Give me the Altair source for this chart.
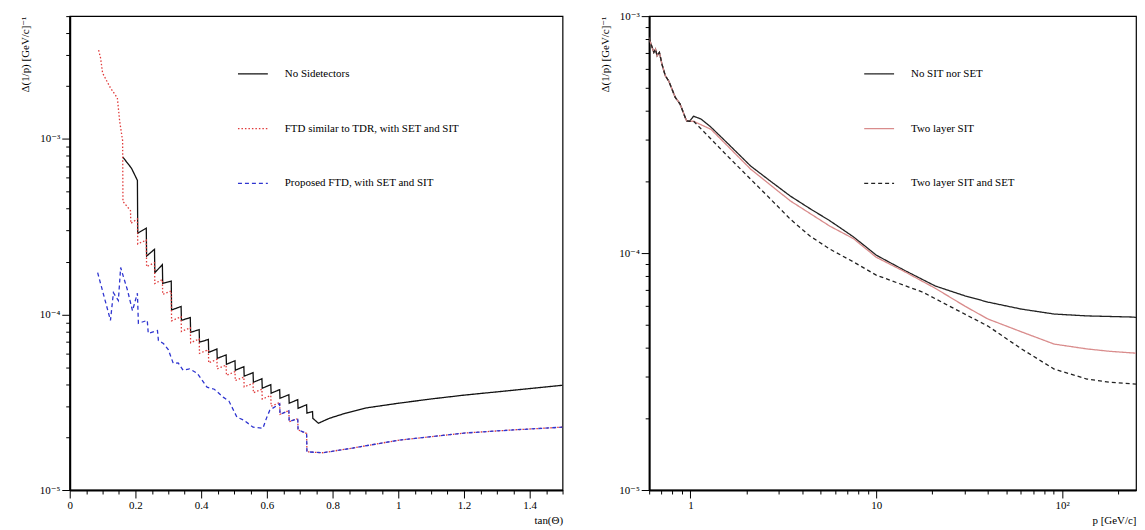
import altair as alt
import pandas as pd

FONT = "Liberation Serif, DejaVu Serif, serif"

# ---------------- left panel: resolution vs tan(theta) ----------------
left_names = ["No Sidetectors", "FTD similar to TDR, with SET and SIT", "Proposed FTD, with SET and SIT"]

black_tan = [0.161, 0.188, 0.206, 0.207, 0.233, 0.234, 0.258, 0.259, 0.282, 0.283, 0.309, 0.310, 0.339,
             0.340, 0.367, 0.368, 0.394, 0.395, 0.422, 0.423, 0.448, 0.449, 0.476, 0.477, 0.503, 0.504,
             0.530, 0.531, 0.558, 0.559, 0.585, 0.586, 0.612, 0.613, 0.639, 0.640, 0.667, 0.668, 0.694,
             0.695, 0.721, 0.722, 0.739, 0.740, 0.757, 0.79, 0.84, 0.90, 1.0, 1.1, 1.2, 1.35, 1.5]
black_res = [7.9e-4, 6.8e-4, 5.8e-4, 2.9e-4, 3.1e-4, 2.15e-4, 2.35e-4, 1.73e-4, 1.92e-4, 1.50e-4, 1.55e-4,
             1.06e-4, 1.11e-4, 9.25e-5, 9.6e-5, 7.9e-5, 8.2e-5, 6.95e-5, 7.2e-5, 6.08e-5, 6.35e-5, 5.62e-5,
             5.88e-5, 5.20e-5, 5.45e-5, 4.81e-5, 5.04e-5, 4.45e-5, 4.66e-5, 4.11e-5, 4.30e-5, 3.80e-5,
             3.98e-5, 3.56e-5, 3.73e-5, 3.33e-5, 3.49e-5, 3.12e-5, 3.27e-5, 2.92e-5, 3.06e-5, 2.74e-5,
             2.80e-5, 2.56e-5, 2.40e-5, 2.56e-5, 2.74e-5, 2.93e-5, 3.12e-5, 3.30e-5, 3.47e-5, 3.70e-5, 3.95e-5]

red_tan = [0.088, 0.094, 0.100, 0.124, 0.145, 0.152, 0.161, 0.162, 0.185, 0.186, 0.206, 0.207, 0.233,
           0.234, 0.258, 0.259, 0.282, 0.283, 0.309, 0.310, 0.339, 0.340, 0.367, 0.368, 0.394, 0.395,
           0.422, 0.423, 0.448, 0.449, 0.476, 0.477, 0.503, 0.504, 0.530, 0.531, 0.558, 0.559, 0.585,
           0.586, 0.612, 0.613, 0.639, 0.640, 0.667, 0.668, 0.694, 0.695, 0.721, 0.722, 0.77, 0.85,
           1.0, 1.2, 1.35, 1.5]
red_res = [3.2e-3, 2.88e-3, 2.37e-3, 1.95e-3, 1.71e-3, 1.26e-3, 9.75e-4, 4.4e-4, 3.9e-4, 3.3e-4, 3.5e-4,
           2.52e-4, 2.65e-4, 1.87e-4, 1.97e-4, 1.5e-4, 1.58e-4, 1.3e-4, 1.36e-4, 9.2e-5, 9.7e-5, 8.0e-5,
           8.4e-5, 6.9e-5, 7.25e-5, 6.0e-5, 6.3e-5, 5.3e-5, 5.55e-5, 4.9e-5, 5.15e-5, 4.5e-5, 4.72e-5,
           4.2e-5, 4.4e-5, 3.87e-5, 4.05e-5, 3.58e-5, 3.75e-5, 3.3e-5, 3.45e-5, 3.0e-5, 3.15e-5, 2.7e-5,
           2.83e-5, 2.45e-5, 2.55e-5, 2.2e-5, 2.1e-5, 1.65e-5, 1.63e-5, 1.72e-5, 1.92e-5, 2.11e-5,
           2.2e-5, 2.28e-5]

blue_tan = [0.085, 0.124, 0.133, 0.148, 0.155, 0.176, 0.191, 0.206, 0.209, 0.236, 0.239, 0.267, 0.270,
            0.285, 0.300, 0.315, 0.330, 0.345, 0.365, 0.388, 0.400, 0.418, 0.440, 0.467, 0.485, 0.509,
            0.530, 0.558, 0.588, 0.600, 0.609, 0.639, 0.640, 0.667, 0.668, 0.694, 0.695, 0.721, 0.722,
            0.77, 0.85, 1.0, 1.2, 1.35, 1.5]
blue_res = [1.73e-4, 9.25e-5, 1.33e-4, 1.20e-4, 1.85e-4, 1.37e-4, 1.05e-4, 1.32e-4, 8.9e-5, 9.25e-5,
            7.8e-5, 8.1e-5, 7.1e-5, 6.84e-5, 6.3e-5, 5.27e-5, 5.3e-5, 4.81e-5, 4.9e-5, 4.62e-5, 4.3e-5,
            3.85e-5, 3.75e-5, 3.38e-5, 3.2e-5, 2.60e-5, 2.5e-5, 2.28e-5, 2.25e-5, 2.6e-5, 2.85e-5,
            3.1e-5, 2.7e-5, 2.83e-5, 2.45e-5, 2.55e-5, 2.2e-5, 2.1e-5, 1.65e-5, 1.63e-5, 1.72e-5,
            1.92e-5, 2.11e-5, 2.2e-5, 2.28e-5]

left_colors = ["#111111", "#e03a3a", "#2f35d0"]
left_dashes = [[1, 0], [1.5, 2], [4, 3]]

left_x_ticks = [0.0, 0.05, 0.1, 0.15, 0.2, 0.25, 0.3, 0.35, 0.4, 0.45, 0.5, 0.55, 0.6, 0.65, 0.7, 0.75,
                0.8, 0.85, 0.9, 0.95, 1.0, 1.05, 1.1, 1.15, 1.2, 1.25, 1.3, 1.35, 1.4, 1.45, 1.5]
left_x_labels = ["0", "0.2", "0.4", "0.6", "0.8", "1", "1.2", "1.4"]
left_y_ticks = [1e-5, 2e-5, 3e-5, 4e-5, 5e-5, 6e-5, 7e-5, 8e-5, 9e-5,
                1e-4, 2e-4, 3e-4, 4e-4, 5e-4, 6e-4, 7e-4, 8e-4, 9e-4,
                1e-3, 2e-3, 3e-3, 4e-3, 5e-3]

# ---------------- right panel: resolution vs p ----------------
right_names = ["No SIT nor SET", "Two layer SIT", "Two layer SIT and SET"]

common_p = [0.598, 0.61, 0.636, 0.649, 0.662, 0.681, 0.703, 0.733, 0.764, 0.796, 0.829, 0.856, 0.881,
            0.937, 0.956, 0.99]
common_res = [8.1e-4, 7.74e-4, 7.03e-4, 7.26e-4, 6.8e-4, 7.03e-4, 6.27e-4, 5.6e-4, 5.33e-4, 4.92e-4,
              4.54e-4, 4.39e-4, 4.25e-4, 3.74e-4, 3.61e-4, 3.6e-4]

nosit_p = [1.04, 1.14, 1.29, 1.59, 2.11, 2.70, 3.45, 4.40, 5.62, 7.55, 10.0, 14.0, 20.8, 30.0, 39.9,
           60.5, 90.6, 136, 180, 239, 250]
nosit_res = [3.78e-4, 3.68e-4, 3.40e-4, 2.9e-4, 2.33e-4, 2.01e-4, 1.74e-4, 1.54e-4, 1.37e-4, 1.17e-4,
             9.8e-5, 8.5e-5, 7.26e-5, 6.6e-5, 6.21e-5, 5.80e-5, 5.53e-5, 5.43e-5, 5.4e-5, 5.37e-5, 5.35e-5]

sit_p = [1.04, 1.29, 2.11, 3.45, 5.62, 7.55, 10.0, 14.0, 20.8, 30.0, 39.9, 60.5, 90.6, 136, 180, 250]
sit_res = [3.6e-4, 3.33e-4, 2.26e-4, 1.66e-4, 1.30e-4, 1.15e-4, 9.6e-5, 8.4e-5, 7.1e-5, 5.97e-5, 5.27e-5,
           4.65e-5, 4.13e-5, 3.94e-5, 3.85e-5, 3.78e-5]

sitset_p = [1.04, 1.29, 1.59, 2.11, 2.70, 3.45, 4.40, 5.62, 7.55, 10.0, 17.8, 26.6, 39.9, 60.5, 90.6,
            136, 180, 250]
sitset_res = [3.6e-4, 3.03e-4, 2.56e-4, 2.05e-4, 1.69e-4, 1.39e-4, 1.18e-4, 1.04e-4, 9.17e-5, 8.07e-5,
              6.84e-5, 5.80e-5, 4.92e-5, 3.94e-5, 3.24e-5, 2.94e-5, 2.85e-5, 2.80e-5]

right_colors = ["#222222", "#d98c8c", "#222222"]
right_dashes = [[1, 0], [1, 0], [4, 3]]

right_x_ticks = [0.6, 0.7, 0.8, 0.9, 1, 2, 3, 4, 5, 6, 7, 8, 9, 10, 20, 30, 40, 50, 60, 70, 80, 90, 100, 200]
right_y_ticks = [1e-5, 2e-5, 3e-5, 4e-5, 5e-5, 6e-5, 7e-5, 8e-5, 9e-5,
                 1e-4, 2e-4, 3e-4, 4e-4, 5e-4, 6e-4, 7e-4, 8e-4, 9e-4, 1e-3]
y_decade_labels = ["10⁻⁵", "10⁻⁴", "10⁻³"]
right_x_labels = ["1", "10", "10²"]


def frame(names, xs_list, ys_list):
    rows = []
    for name, xs, ys in zip(names, xs_list, ys_list):
        for i, (x, y) in enumerate(zip(xs, ys)):
            rows.append({"series": name, "x": x, "y": y, "i": i})
    return pd.DataFrame(rows)


df_left = frame(left_names, [black_tan, red_tan, blue_tan], [black_res, red_res, blue_res])
df_right = frame(right_names,
                 [common_p + nosit_p, common_p + sit_p, common_p + sitset_p],
                 [common_res + nosit_res, common_res + sit_res, common_res + sitset_res])

DEC = "abs(log(datum.value)/LN10 - round(log(datum.value)/LN10)) < 0.01"
LOGV = "round(log(datum.value)/LN10)"
y_label_expr = (DEC + " ? ({'-5': '%s', '-4': '%s', '-3': '%s'})[toString(%s)] : ''"
                % (y_decade_labels[0], y_decade_labels[1], y_decade_labels[2], LOGV))
MAJ_LIN = "abs(datum.value*5 - round(datum.value*5)) < 0.001"
left_x_label_expr = MAJ_LIN + " ? [" + ",".join("'%s'" % s for s in left_x_labels) + "][round(datum.value*5)] : ''"
right_x_label_expr = (DEC + " ? ({'0': '%s', '1': '%s', '2': '%s'})[toString(%s)] : ''"
                      % (right_x_labels[0], right_x_labels[1], right_x_labels[2], LOGV))

axis_common = dict(labelFont=FONT, titleFont=FONT, labelFontSize=11, titleFontSize=11,
                   titleFontWeight="normal", labelColor="black", titleColor="black",
                   domainColor="black", domainWidth=2, tickColor="black", tickWidth=1, grid=False,
                   labelPadding=2)


def y_axis(values, title):
    return alt.Axis(values=values, labelExpr=y_label_expr, title=title,
                    tickSize={"condition": {"test": DEC, "value": 8}, "value": 4},
                    titleAnchor="end", titleAlign="right", titleAngle=-90, titleBaseline="middle",
                    titleX=-44, titleY=0, minExtent=34, maxExtent=34, **axis_common)


def x_axis(values, label_expr, title, major_test):
    return alt.Axis(values=values, labelExpr=label_expr, title=title,
                    tickSize={"condition": {"test": major_test, "value": 8}, "value": 4},
                    titleAnchor="end", titlePadding=4, labelFlush=False, **axis_common)


def legend(x, y):
    return alt.Legend(title=None, orient="none", legendX=x, legendY=y, symbolType="stroke",
                      symbolSize=900, symbolStrokeWidth=1.3, rowPadding=34, labelOffset=16,
                      labelFont=FONT, labelFontSize=11, labelColor="black", padding=0, labelLimit=0)


left = alt.Chart(df_left).mark_line(clip=True, strokeWidth=1.3).encode(
    x=alt.X("x:Q", scale=alt.Scale(domain=[0, 1.5], nice=False, zero=False),
            axis=x_axis(left_x_ticks, left_x_label_expr, "tan(Θ)", MAJ_LIN)),
    y=alt.Y("y:Q", scale=alt.Scale(type="log", domain=[1e-5, 5e-3], nice=False),
            axis=y_axis(left_y_ticks, "Δ(1/p) [GeV/c]⁻¹")),
    color=alt.Color("series:N", scale=alt.Scale(domain=left_names, range=left_colors),
                    legend=legend(168, 42)),
    strokeDash=alt.StrokeDash("series:N", scale=alt.Scale(domain=left_names, range=left_dashes),
                              legend=legend(168, 42)),
    order="i:Q",
).properties(width=495, height=476)

right = alt.Chart(df_right).mark_line(clip=True, strokeWidth=1.3).encode(
    x=alt.X("x:Q", scale=alt.Scale(type="log", domain=[0.6, 250], nice=False),
            axis=x_axis(right_x_ticks, right_x_label_expr, "p [GeV/c]", DEC)),
    y=alt.Y("y:Q", scale=alt.Scale(type="log", domain=[1e-5, 1e-3], nice=False),
            axis=y_axis(right_y_ticks, "Δ(1/p) [GeV/c]⁻¹")),
    color=alt.Color("series:N", scale=alt.Scale(domain=right_names, range=right_colors),
                    legend=legend(215, 42)),
    strokeDash=alt.StrokeDash("series:N", scale=alt.Scale(domain=right_names, range=right_dashes),
                              legend=legend(215, 42)),
    order="i:Q",
).properties(width=489, height=476)

chart = (
    alt.hconcat(left, right, spacing=34)
    .resolve_scale(color="independent", strokeDash="independent")
    .configure_view(stroke="black", strokeWidth=1.2)
    .properties(padding={"left": 11, "top": 0, "right": 0, "bottom": 0}, background="white")
)

chart.save("out.html", embed_options={"renderer": "svg", "actions": False})
